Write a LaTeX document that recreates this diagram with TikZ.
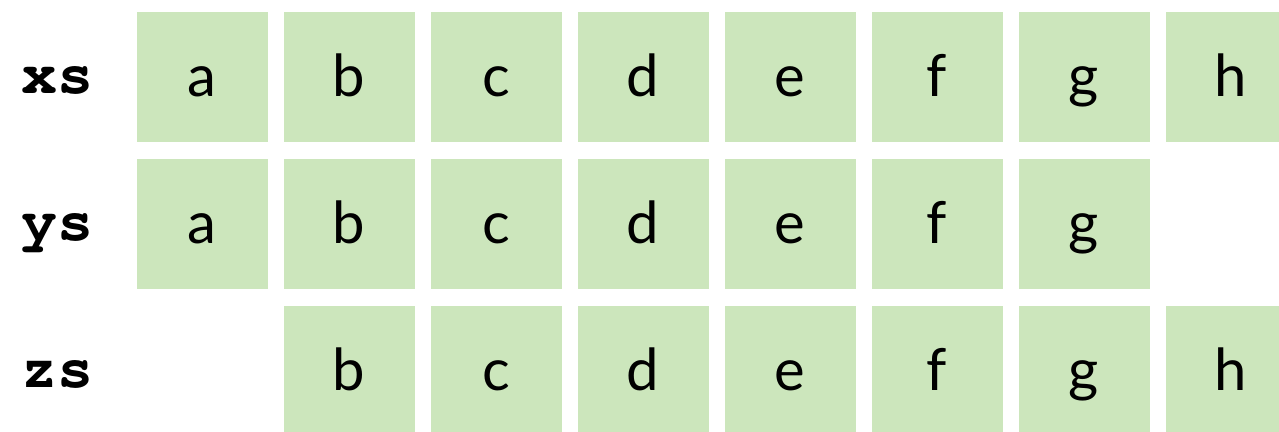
\documentclass[tikz,border=0pt]{standalone}
\usepackage{fontspec}
\setmainfont{Lato}
\newfontfamily\cursorfont{texgyrecursor}[Extension=.otf,UprightFont=*-regular,BoldFont=*-bold]
\definecolor{cellgreen}{RGB}{204,230,188}
\begin{document}
\begin{tikzpicture}[x=1pt,y=-1pt,
  cell/.style={fill=cellgreen,draw=none,minimum width=131pt,minimum height=130pt,inner sep=0pt,
    text height=42pt,text depth=4pt,font=\fontsize{58}{60}\selectfont},
  rowlabel/.style={inner sep=0pt,anchor=base,font=\cursorfont\bfseries\fontsize{60}{62}\selectfont}]
\useasboundingbox (0,0) rectangle (1279,431);
\clip (0,0) rectangle (1279,431);
\foreach \l [count=\i from 0] in {a,b,c,d,e,f,g,h}
  \node[cell] (x\l) at (202+147*\i,77) {\l};
\foreach \l [count=\i from 0] in {a,b,c,d,e,f,g}
  \node[cell] (y\l) at (202+147*\i,224) {\l};
\foreach \l [count=\i from 1] in {b,c,d,e,f,g,h}
  \node[cell] (z\l) at (202+147*\i,371) {\l};
\node[rowlabel] (lx) at (57,93) {xs};
\node[rowlabel] (ly) at (57,240) {ys};
\node[rowlabel] (lz) at (57,387) {zs};
\end{tikzpicture}
\end{document}
